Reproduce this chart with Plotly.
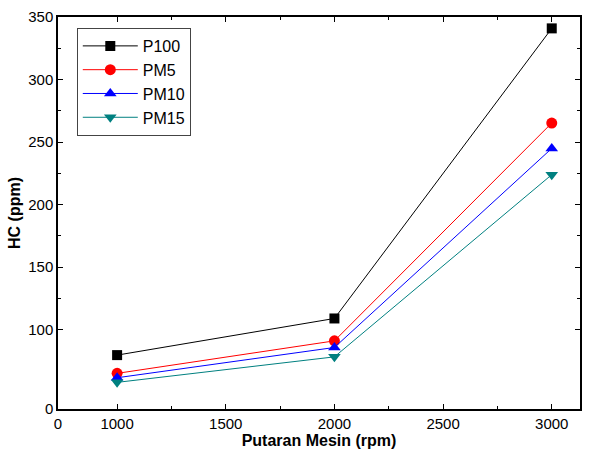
import plotly.graph_objects as go

rpm = [1000, 2000, 3000]
p100 = [79.6, 108.9, 340.9]
pm5 = [65.0, 91.0, 265.2]
pm10 = [61.5, 85.7, 244.9]
pm15 = [57.8, 78.2, 223.9]

series = [
    ("P100", p100, "black", "square"),
    ("PM5", pm5, "red", "circle"),
    ("PM10", pm10, "blue", "triangle-up"),
    ("PM15", pm15, "#008080", "triangle-down"),
]

x_range = [728, 3130]
y_range = [36.5, 350]
x_tickvals = [728, 1000, 1500, 2000, 2500, 3000]
x_ticktext = ["0", "1000", "1500", "2000", "2500", "3000"]
y_tickvals = [36.5, 100, 150, 200, 250, 300, 350]
y_ticktext = ["0", "100", "150", "200", "250", "300", "350"]

fig = go.Figure()
for name, vals, color, sym in series:
    fig.add_trace(go.Scatter(
        x=rpm, y=vals, name=name, mode="lines+markers",
        line=dict(color=color, width=1),
        marker=dict(symbol=sym, size=11 if sym != "square" else 10, color=color),
    ))

font = "Liberation Sans, Arial, sans-serif"
fig.update_layout(
    width=593, height=454,
    margin=dict(l=58, r=13, t=17, b=45, autoexpand=False),
    paper_bgcolor="white", plot_bgcolor="white",
    font=dict(family=font, size=15, color="black"),
    showlegend=True,
    legend=dict(
        x=0.036, y=0.972, xanchor="left", yanchor="top",
        bordercolor="#444", borderwidth=1, bgcolor="white",
        font=dict(size=16, family=font), tracegroupgap=0, itemwidth=55,
    ),
    xaxis=dict(
        range=x_range, tickvals=x_tickvals, ticktext=x_ticktext, automargin=False,
        showgrid=False, zeroline=False, showline=True, linecolor="black", linewidth=1.5,
        mirror="ticks", ticks="inside", ticklen=5, tickcolor="black",
        minor=dict(tickvals=[1250, 1750, 2250, 2750], ticks="inside", ticklen=3, tickcolor="black"),
        title=dict(text="<b>Putaran Mesin (rpm)</b>", font=dict(size=16), standoff=4),
        tickfont=dict(size=15),
    ),
    yaxis=dict(
        range=y_range, tickvals=y_tickvals, ticktext=y_ticktext, automargin=False,
        showgrid=False, zeroline=False, showline=True, linecolor="black", linewidth=1.5,
        mirror="ticks", ticks="inside", ticklen=5, tickcolor="black",
        minor=dict(tickvals=[125, 175, 225, 275, 325], ticks="inside", ticklen=3, tickcolor="black"),
        title=dict(text="<b>HC (ppm)</b>", font=dict(size=16), standoff=4),
        tickfont=dict(size=15),
    ),
)

fig.write_html("out.html", config={"displayModeBar": False},
               post_script="document.body.style.margin='0';")
